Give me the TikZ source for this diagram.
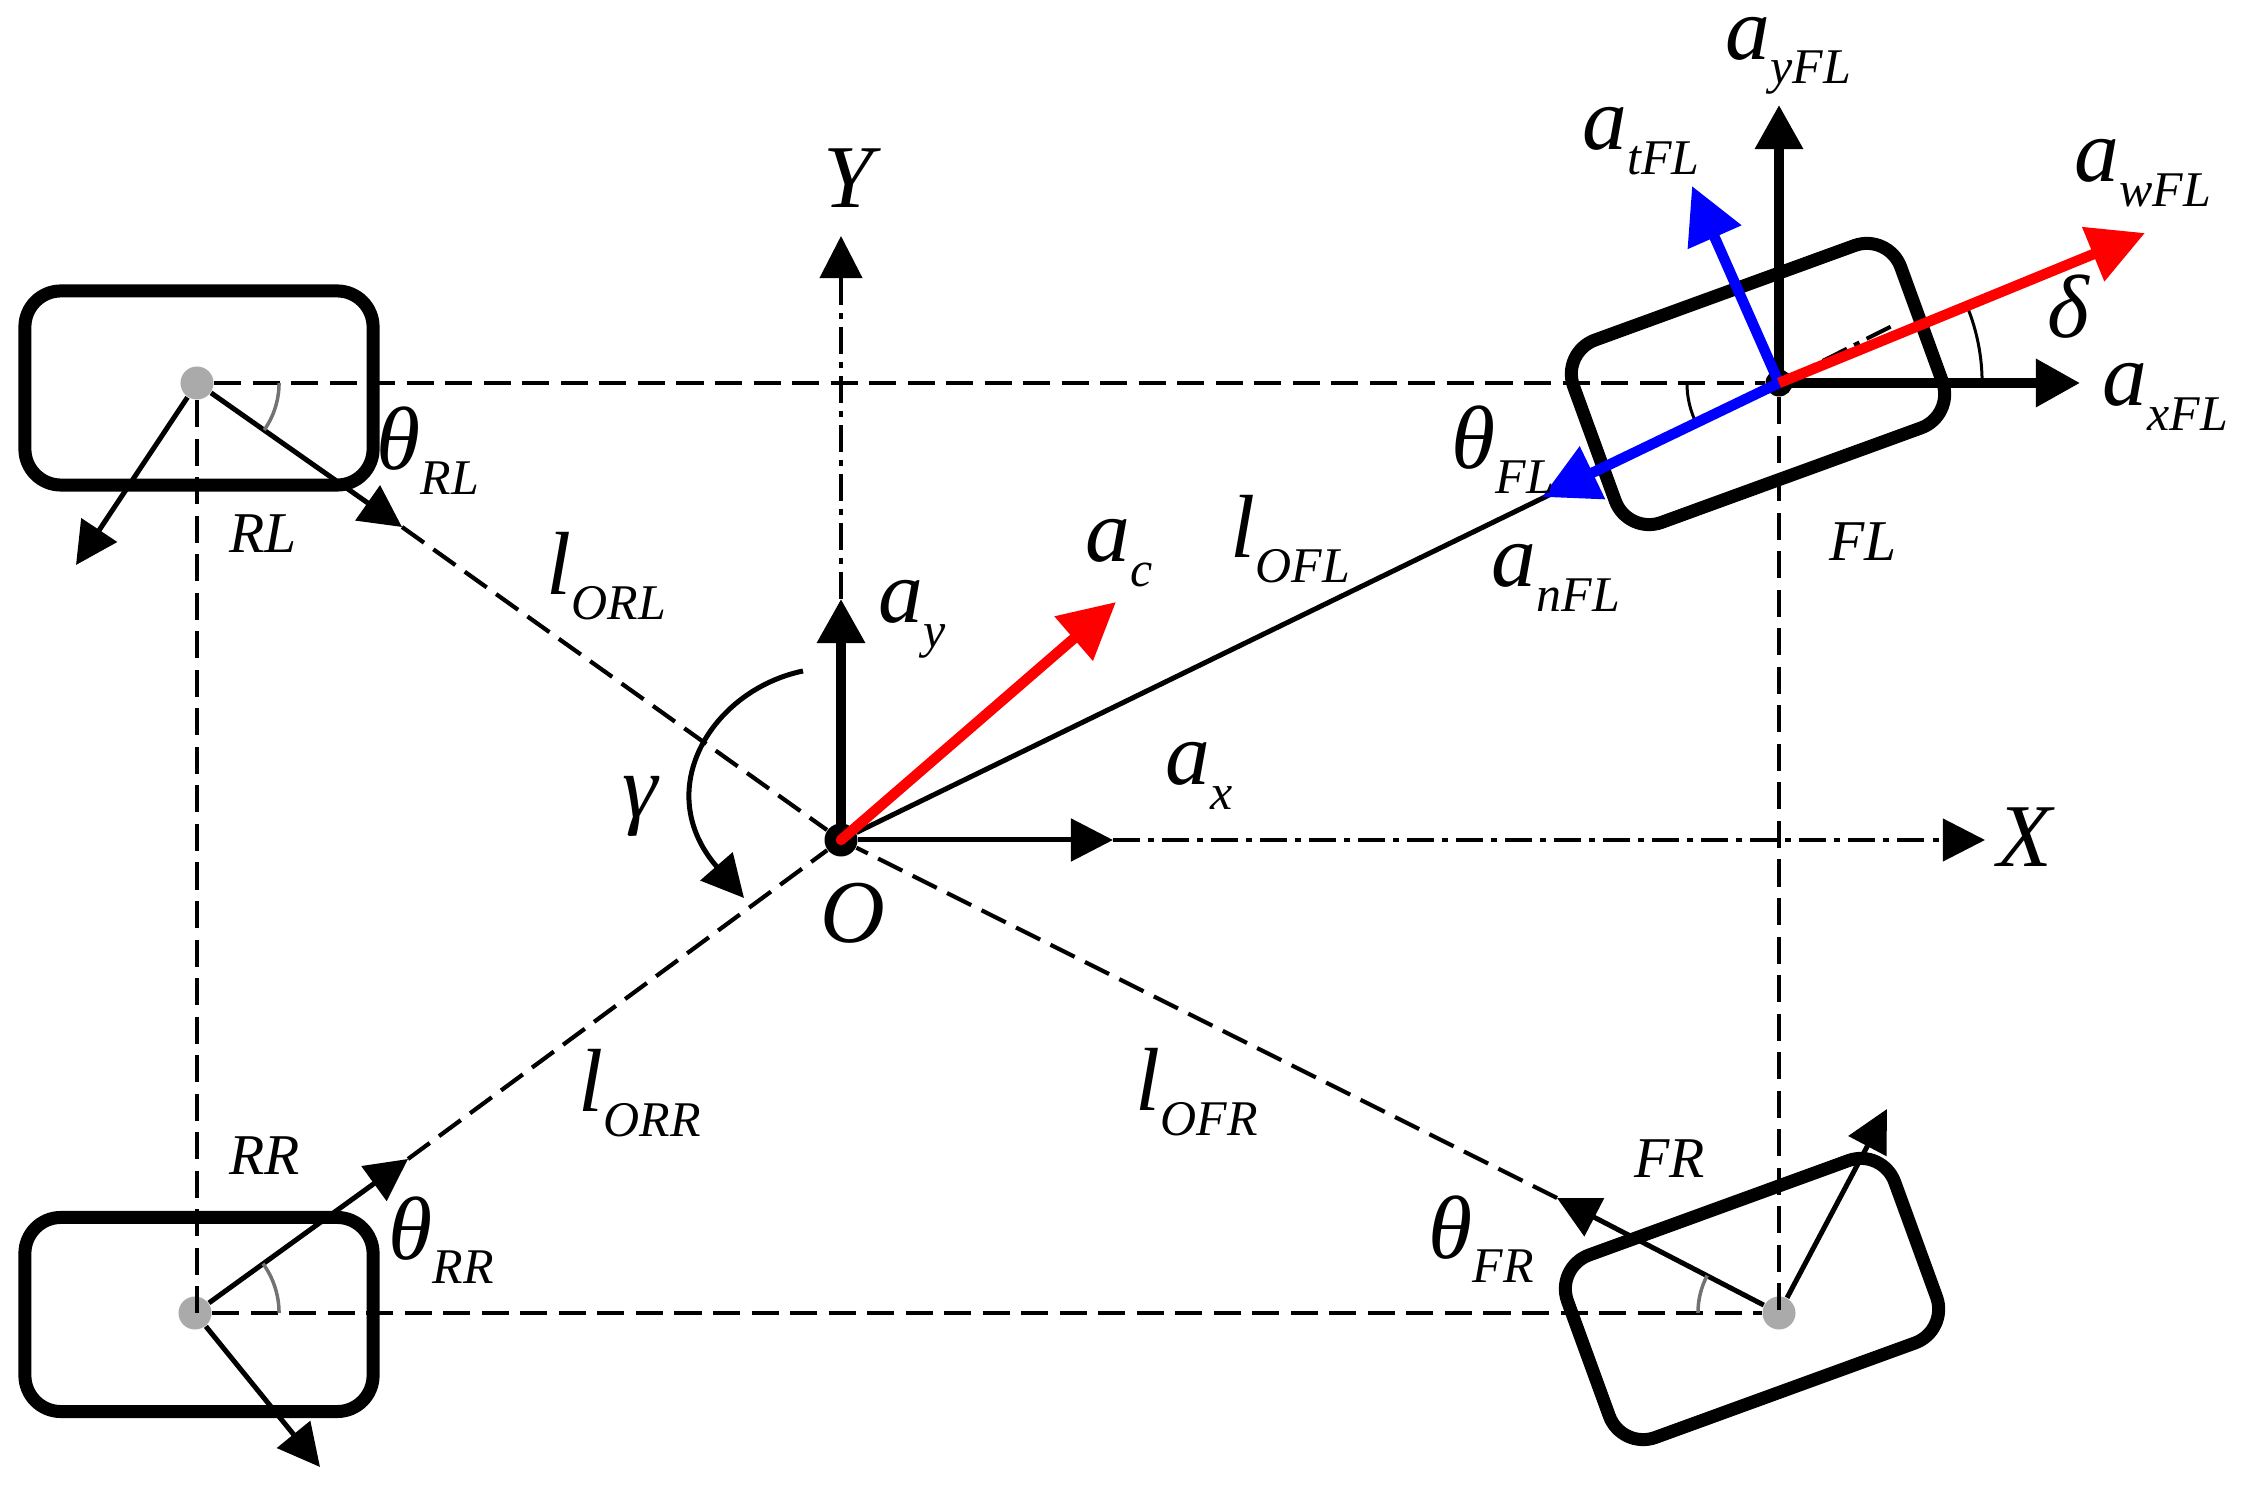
\documentclass[tikz,border=0pt]{standalone}
\usepackage{fontspec}
\setmainfont{Liberation Serif}
\usetikzlibrary{arrows.meta}
\newcommand{\symb}[2]{{\fontsize{25.5}{25.5}\selectfont\itshape #1}\raisebox{-0.24cm}{\fontsize{14.2}{14.2}\selectfont\itshape #2}}
\tikzset{
    wheel/.style={draw,line width=.13cm,rounded corners=.36cm,minimum width=3.48cm,minimum height=1.94cm,inner sep=0pt},
    hub/.style={circle,fill={rgb,255:red,170;green,170;blue,170},minimum size=.33cm,inner sep=0pt},
    pivot/.style={circle,fill=black,inner sep=0pt},
    dashline/.style={line width=.042cm,dash pattern=on .27cm off .115cm},
    axisline/.style={line width=.04cm,dash pattern=on .27cm off .08cm on .06cm off .08cm},
    thinarrow/.style={line width=.05cm,-{Triangle[length=.42cm,width=.42cm]}},
    thickarrow/.style={line width=.095cm,-{Triangle[length=.44cm,width=.46cm]}},
    colorarrow/.style={line width=.105cm,-{Triangle[length=.56cm,width=.56cm]}},
    anglearc/.style={line width=.035cm,black!55},
    lab/.style={anchor=base west,inner sep=0pt},
    bigsym/.style={lab,font=\fontsize{25.5}{25.5}\selectfont\itshape},
    wheelname/.style={lab,font=\fontsize{16.4}{16.4}\selectfont\itshape}
}
\begin{document}
\begin{tikzpicture}[x=.01cm,y=-.01cm]
    \useasboundingbox (0,0) rectangle (2251,1486);
    % wheels
    \node [wheel] (RLbox) at (199,388) {};
    \node [wheel] (RRbox) at (199,1314.5) {};
    \node [wheel,rotate=20] (FLbox) at (1758,384) {};
    \node [wheel,rotate=20] (FRbox) at (1752,1299) {};
    % centre points
    \node [hub] (RL) at (197,383) {};
    \node [hub] (RR) at (195,1313) {};
    \node [hub] (FR) at (1779,1313) {};
    \node [pivot,minimum size=.27cm] (FL) at (1779,383) {};
    \node [pivot,minimum size=.33cm] (O) at (841,840) {};
    % free ends
    \coordinate (RLtip) at (402,527);
    \coordinate (RRtip) at (408,1159);
    \coordinate (FRtip) at (1557,1198);
    \coordinate (axEnd) at (1113,840);
    \coordinate (ayEnd) at (841,599);
    \coordinate (XEnd) at (1985,840);
    \coordinate (YEnd) at (841,236);
    % frame
    \draw[dashline] (RL) -- (FL);
    \draw[dashline] (RR) -- (FR);
    \draw[dashline] (RL) -- (RL |- RR);
    \draw[dashline] (FL) -- (FL |- FR);
    % axes
    \draw[axisline,-{Triangle[length=.42cm,width=.42cm]}] (axEnd) -- (XEnd);
    \draw[axisline,-{Triangle[length=.42cm,width=.42cm]}] (ayEnd) -- (YEnd);
    \draw[thinarrow] (O) -- (axEnd);
    % lines to the origin
    \draw[dashline] (RLtip) -- (O);
    \draw[dashline] (RRtip) -- (O);
    \draw[dashline] (FRtip) -- (O);
    \draw[line width=.05cm] (O) -- (FL);
    \draw[thinarrow] (RL) -- (RLtip);
    \draw[thinarrow] (RR) -- (RRtip);
    \draw[thinarrow] (FR) -- (FRtip);
    % wheel directions
    \coordinate (RLdir) at (76,565);
    \coordinate (RRdir) at (320,1467);
    \coordinate (FRdir) at (1887,1109);
    \draw[thinarrow] (RL) -- (RLdir);
    \draw[thinarrow] (RR) -- (RRdir);
    \draw[thinarrow] (FR) -- (FRdir);
    % angles
    \draw[anglearc] ([xshift=.82cm]RL.center) arc[start angle=0,end angle=-35,radius=.82cm];
    \draw[anglearc] ([xshift=.84cm]RR.center) arc[start angle=0,end angle=36,radius=.84cm];
    \draw[anglearc] ([xshift=-.81cm]FR.center) arc[start angle=180,end angle=152.5,radius=.81cm];
    \draw[line width=.03cm] ([xshift=-.92cm]FL.center) arc[start angle=180,end angle=206,radius=.92cm];
    \draw[line width=.03cm] ([xshift=2.03cm]FL.center) arc[start angle=0,end angle=22,radius=2.03cm];
    \coordinate (gammaA) at (803,671);
    \coordinate (gammaB) at (744,898);
    \draw[thinarrow] (gammaA) .. controls (712,690) and (650,790) .. (gammaB);
    % accelerations at O
    \coordinate (acEnd) at (1116,602);
    \draw[thickarrow] (O.center) -- (ayEnd);
    \draw[colorarrow,red,line cap=round] (O.center) -- (acEnd);
    % accelerations at FL
    \coordinate (FLaxis) at (1892,326);
    \coordinate (axFL) at (2080,383);
    \coordinate (ayFL) at (1779,105);
    \coordinate (awFL) at (2145,233);
    \coordinate (atFL) at (1692,186);
    \coordinate (anFL) at (1542,497);
    \draw[axisline] (FL.center) -- (FLaxis);
    \draw[thickarrow] (FL.center) -- (axFL);
    \draw[thickarrow] (FL.center) -- (ayFL);
    \draw[colorarrow,blue] (FL.center) -- (atFL);
    \draw[colorarrow,blue] (FL.center) -- (anFL);
    \draw[colorarrow,red] (FL.center) -- (awFL);
    % labels
    \node [bigsym] (Ylab) at (823,208) {Y};
    \node [bigsym] (Xlab) at (1997,867) {X};
    \node [bigsym] (Olab) at (820,943) {O};
    \node [bigsym] (gammalab) at (622,818) {γ};
    \node [bigsym] (deltalab) at (2047,338) {δ};
    \node [lab] (aylab) at (878,623) {\symb{a}{y}};
    \node [lab] (axlab) at (1165,785) {\symb{a}{x}};
    \node [lab] (aclab) at (1085,562) {\symb{a}{c}};
    \node [lab] (ayFLlab) at (1725,60) {\symb{a}{yFL}};
    \node [lab] (atFLlab) at (1582,150) {\symb{a}{tFL}};
    \node [lab] (awFLlab) at (2074,182) {\symb{a}{wFL}};
    \node [lab] (axFLlab) at (2102,406) {\symb{a}{xFL}};
    \node [lab] (anFLlab) at (1491,587) {\symb{a}{nFL}};
    \node [lab] (tFLlab) at (1451,469) {\symb{θ}{FL}};
    \node [lab] (tRLlab) at (376,470) {\symb{θ}{RL}};
    \node [lab] (tRRlab) at (388,1259) {\symb{θ}{RR}};
    \node [lab] (tFRlab) at (1428,1258) {\symb{θ}{FR}};
    \node [lab] (lFLlab) at (1230,558) {\symb{l}{OFL}};
    \node [lab] (lRLlab) at (546,595) {\symb{l}{ORL}};
    \node [lab] (lRRlab) at (578,1112) {\symb{l}{ORR}};
    \node [lab] (lFRlab) at (1135,1111) {\symb{l}{OFR}};
    \node [wheelname] (FLname) at (1829,561) {FL};
    \node [wheelname] (RLname) at (229,553) {RL};
    \node [wheelname] (RRname) at (229,1175) {RR};
    \node [wheelname] (FRname) at (1634,1178) {FR};
\end{tikzpicture}
\end{document}
